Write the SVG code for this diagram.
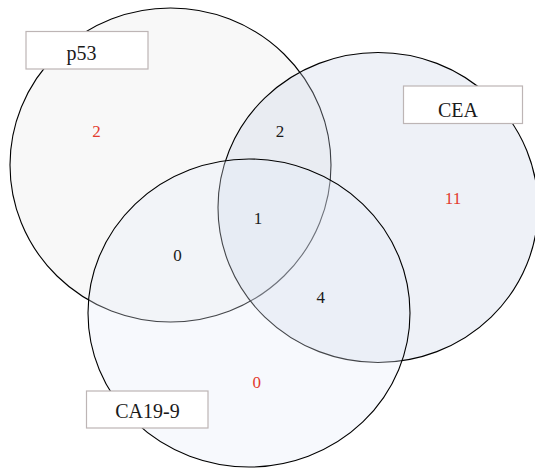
<svg xmlns="http://www.w3.org/2000/svg" width="535" height="471" viewBox="0 0 535 471">
<style>
.set{stroke:#000;stroke-width:1.1}
.lbl rect{fill:#fff;stroke:#bdb5b5;stroke-width:1.2}
.lbl text{font-family:"Liberation Serif",serif;font-size:20px;fill:#1a1a1a;text-anchor:middle}
.num{font-family:"Liberation Serif",serif;font-size:17px;text-anchor:middle;fill:#1a1a1a}
.red{fill:#e33b2e}
</style>
<rect width="535" height="471" fill="#fff"/>
<g id="set-p53"><ellipse class="set" cx="170.5" cy="165" rx="160.5" ry="157" fill="#ebebeb" fill-opacity="0.35"/></g>
<g id="set-CEA"><ellipse class="set" cx="378" cy="207.5" rx="160" ry="155" fill="#c8d2e4" fill-opacity="0.3"/></g>
<g id="set-CA19-9"><ellipse class="set" cx="249" cy="313" rx="161" ry="154" fill="#e6ecfa" fill-opacity="0.3"/></g>
<g id="counts">
<text class="num red" x="96.6" y="137">2</text>
<text class="num" x="280" y="137">2</text>
<text class="num red" x="453" y="204">11</text>
<text class="num" x="258" y="224">1</text>
<text class="num" x="177.5" y="261">0</text>
<text class="num" x="320.8" y="303">4</text>
<text class="num red" x="256.7" y="388">0</text>
</g>
<g id="label-p53" class="lbl"><rect x="26" y="31.5" width="122" height="37.5"/><text x="81.5" y="59.5">p53</text></g>
<g id="label-CEA" class="lbl"><rect x="403.5" y="86" width="119" height="37.5"/><text x="458" y="116.5">CEA</text></g>
<g id="label-CA19-9" class="lbl"><rect x="86.5" y="391" width="121.5" height="37"/><text x="147.5" y="418">CA19-9</text></g>
</svg>
